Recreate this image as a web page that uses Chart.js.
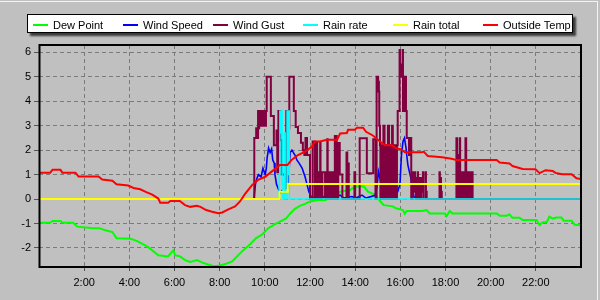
<!DOCTYPE html>
<html>
<head>
<meta charset="utf-8">
<script src="https://cdn.jsdelivr.net/npm/chart.js@4"></script>
<style>
  body { margin: 0; background: #c0c0c0; }
  #wrap { position: relative; width: 600px; height: 300px; background: #c0c0c0; overflow: hidden; }
  #topline { position: absolute; left: 0; top: 1px; width: 598px; height: 1px; background: #f4f4f4; }
  #rightline { position: absolute; left: 597px; top: 1px; width: 1px; height: 299px; background: #f4f4f4; }
  #legend { position: absolute; left: 27px; top: 14px; width: 544px; height: 17px; border: 1px solid #000;
            background: #fff; box-shadow: 3px 3px 2px #3a3a3a; font: 11px "Liberation Sans", Arial, sans-serif; }
  #legend .mark { position: absolute; top: 9px; width: 15px; height: 0; border-top: 2px solid; }
  #legend .txt { position: absolute; top: 2px; line-height: 17px; color: #000; white-space: nowrap; }
  canvas { position: absolute; left: 0; top: 0; }
</style>
</head>
<body>
<div id="wrap">
  <div id="topline"></div>
  <div id="rightline"></div>
  <canvas id="myChart" width="600" height="300"></canvas>
  <div id="legend"></div>
</div>
<script>
// x values are minutes after midnight
var xTicks = [120, 240, 360, 480, 600, 720, 840, 960, 1080, 1200, 1320];
var xTickLabels = ["2:00", "4:00", "6:00", "8:00", "10:00", "12:00", "14:00", "16:00", "18:00", "20:00", "22:00"];
var yTicks = [-2, -1, 0, 1, 2, 3, 4, 5, 6];

var seriesNames = ["Dew Point", "Wind Speed", "Wind Gust", "Rain rate", "Rain total", "Outside Temp"];

var dewPoint = [[0,-0.97],[30,-0.97],[36,-0.9],[57,-0.9],[62,-0.97],[91,-0.97],[102,-1.13],[137,-1.18],[163,-1.2],
  [174,-1.27],[195,-1.35],[206,-1.6],[243,-1.62],[261,-1.72],[277,-1.85],[290,-1.97],[301,-2.1],[317,-2.3],
  [343,-2.35],[351,-2.2],[357,-2.1],[362,-2.3],[375,-2.35],[388,-2.5],[402,-2.57],[420,-2.5],[434,-2.6],
  [449,-2.68],[465,-2.75],[481,-2.72],[497,-2.65],[513,-2.55],[526,-2.35],[542,-2.1],[561,-1.85],[577,-1.6],
  [593,-1.45],[609,-1.2],[625,-1.05],[640,-0.92],[656,-0.8],[667,-0.6],[680,-0.4],[693,-0.28],[707,-0.2],
  [720,-0.1],[741,-0.04],[762,-0.04],[773,0.08],[789,0.15],[800,0.3],[826,0.37],[839,0.5],[863,0.52],
  [874,0.3],[892,0.18],[906,-0.08],[916,-0.25],[940,-0.3],[948,-0.38],[967,-0.45],[972,-0.6],[977,-0.49],
  [1019,-0.49],[1030,-0.45],[1038,-0.59],[1078,-0.59],[1083,-0.7],[1091,-0.49],[1099,-0.59],[1216,-0.59],
  [1224,-0.68],[1242,-0.68],[1250,-0.63],[1258,-0.77],[1277,-0.77],[1285,-0.86],[1322,-0.86],[1330,-1.07],
  [1338,-0.95],[1349,-0.95],[1356,-0.72],[1365,-0.8],[1375,-0.76],[1388,-0.76],[1394,-0.89],[1415,-0.89],
  [1423,-1.05],[1440,-1.07]];

var windSpeed = [[0,0],[571,0],[575,0.6],[579,0.85],[583,1.0],[590,0.9],[595,1.26],[601,1.0],[604,1.26],
  [606,1.67],[610,2.08],[614,1.9],[618,2.05],[621,1.6],[625,1.47],[627,1.0],[631,0.6],[635,0.45],[640,0.25],
  [646,0.35],[651,0.25],[656,0.5],[662,0.45],[664,1.0],[667,1.9],[672,2.0],[680,1.8],[685,1.6],[691,1.47],
  [699,1.27],[707,0.9],[712,0.6],[717,0.3],[723,0.1],[728,0.04],[746,0.16],[752,0.04],[762,0.16],[768,0.04],
  [800,0.16],[810,0.04],[831,0.1],[842,0.04],[858,0.16],[869,0.04],[893,0.15],[898,0.5],[902,1.12],[906,0.86],
  [911,0.5],[916,0.3],[921,0.4],[929,0.2],[938,0.3],[946,0.1],[953,0.3],[959,0.6],[963,1.8],[967,2.35],
  [971,2.49],[975,2.1],[977,1.8],[980,1.4],[984,1.12],[988,0.86],[992,0.4],[996,0.1],[1001,0.04],[1012,0],[1440,0]];

var windGust = [[0,0],[572,2.5],[577,2.9],[578,2.5],[579,2.9],[580,2.5],[582,3.6],[584,2.9],[585,3.6],
  [590,3.0],[591,3.6],[592,3.0],[593,3.6],[594,3.0],[595,3.6],[596,3.0],[597,3.6],[598,3.0],[599,3.6],[600,3.0],
  [601,3.6],[602,3.0],[603,3.6],[605,5.0],[616,3.4],[624,2.2],[631,2.8],[633,1.1],[636,3.6],[641,2.4],[645,1.0],
  [654,0.45],[657,3.6],[661,2.9],[665,5.0],[677,3.6],[682,2.95],[688,2.7],[696,2.3],[701,2.0],[705,1.8],[708,2.5],
  [712,1.8],[720,0],[727,2.35],[733,0],[734,1.1],[735,0],[736,1.1],[737,0],[738,2.3],[739,0],[740,1.1],[741,0],
  [742,1.1],[743,0],[744,1.1],[745,0],[746,1.1],[747,2.3],[748,0],[749,1.1],[750,0],[751,1.1],[752,0],[753,1.1],
  [760,0],[761,1.1],[762,0],[763,1.1],[764,0],[765,1.1],[766,2.45],[767,0],[768,1.1],[769,0],[770,1.1],[771,0],
  [772,1.1],[773,0],[774,1.1],[775,0],[776,1.1],[777,0],[778,1.1],[779,0],[780,1.1],[781,0],[786,2.58],[791,0],
  [795,2.29],[799,1.0],[806,0],[817,1.9],[819,0],[821,1.45],[823,0],[838,1.1],[840,0],[852,2.49],[871,1.05],
  [888,2.45],[894,0],[897,5.0],[899,4.4],[900,5.0],[901,4.4],[902,4.8],[903,4.4],[904,3.0],[906,2.2],[907,0],
  [908,2.2],[909,0],[910,2.2],[911,0],[912,2.2],[913,0],[914,2.2],[915,3.0],[918,0],[919,2.2],[920,0],[921,2.2],
  [922,0],[923,2.2],[924,0],[925,2.2],[926,0],[927,3.0],[930,2.2],[931,0],[932,2.2],[933,0],[934,2.2],[935,0],
  [936,2.2],[937,0],[938,3.0],[940,0],[941,2.2],[942,0],[943,2.2],[944,0],[945,2.2],[946,0],[947,2.2],[948,0],
  [949,2.2],[950,0],[951,2.2],[953,3.6],[958,6.1],[959,5.0],[960,5.5],[961,5.0],[962,5.5],[963,5.0],[966,6.1],
  [967,3.6],[968,5.0],[969,3.6],[970,5.0],[971,3.6],[972,5.0],[973,3.6],[974,5.0],[975,3.6],[977,2.5],[983,1.8],
  [987,2.5],[989,0],[993,1.1],[994,0.3],[998,1.1],[999,0.3],[1001,0],[1003,0.86],[1004,0.3],[1006,1.1],[1007,0],
  [1010,0.86],[1011,0],[1015,0.86],[1016,0.3],[1020,1.1],[1021,0],[1027,1.1],[1028,0.3],[1030,0],[1064,1.1],
  [1065,0],[1067,0.86],[1068,0.3],[1070,0],[1109,2.49],[1111,1.8],[1113,0],[1114,1.1],[1115,0],[1116,1.1],[1117,0],
  [1118,2.49],[1119,1.1],[1120,0],[1121,1.1],[1122,0],[1123,1.1],[1124,0],[1125,1.1],[1126,0],[1127,1.1],[1128,0],
  [1129,1.1],[1130,0],[1131,1.1],[1132,0],[1133,2.49],[1135,1.1],[1136,0],[1137,1.1],[1138,0],[1139,1.1],[1140,0],
  [1141,1.1],[1142,0],[1143,1.1],[1144,0],[1145,1.1],[1146,0],[1147,1.1],[1148,0],[1149,1.1],[1152,0],[1440,0]];

var rainRate = [[0,0],[638,1.0],[640,3.6],[642,2.7],[644,3.6],[646,0.6],[648,0],[652,2.7],[654,0],
  [659,3.6],[661,1.0],[662,3.6],[665,0],[1440,0]];

var rainTotal = [[0,0],[639,0.3],[661,0.61],[1440,0.61]];

var outsideTemp = [[0,1.08],[30,1.08],[36,1.2],[57,1.2],[62,1.08],[97,1.08],[105,0.92],[158,0.92],[168,0.8],
  [195,0.75],[206,0.6],[237,0.55],[251,0.45],[269,0.4],[285,0.28],[301,0.18],[317,0.02],[322,-0.15],[343,-0.15],
  [349,-0.08],[374,-0.08],[388,-0.25],[402,-0.32],[419,-0.28],[429,-0.32],[444,-0.45],[460,-0.52],[476,-0.58],
  [487,-0.55],[503,-0.42],[521,-0.3],[534,-0.1],[547,0.2],[566,0.57],[582,0.78],[601,0.91],[618,1.12],[635,1.32],
  [640,1.39],[660,1.39],[671,1.6],[688,1.8],[707,1.94],[725,2.14],[733,2.35],[746,2.35],[765,2.42],[792,2.42],
  [800,2.68],[818,2.7],[821,2.83],[839,2.83],[845,2.92],[861,2.92],[869,2.75],[887,2.6],[906,2.35],[919,2.2],
  [938,2.2],[948,2.08],[963,2.03],[972,1.91],[1017,1.91],[1022,1.94],[1033,1.76],[1071,1.71],[1096,1.65],
  [1109,1.6],[1216,1.6],[1224,1.49],[1250,1.45],[1258,1.35],[1285,1.23],[1319,1.22],[1330,1.06],[1346,1.18],
  [1365,1.15],[1372,1.07],[1390,1.01],[1415,1.01],[1428,0.85],[1440,0.82]];

var seriesData = [dewPoint, windSpeed, windGust, rainRate, rainTotal, outsideTemp];
var seriesColors = ["#00ff00", "#0000ff", "#800040", "#00ffff", "#ffff00", "#ff0000"];
var seriesStepped = [false, false, true, true, true, false];
var seriesWidth = [2, 1.6, 2, 1.5, 2, 2];

Chart.defaults.font.family = '"Liberation Sans", Arial, sans-serif';
Chart.defaults.font.size = 11;
Chart.defaults.color = "#000";

// legend
var legend = document.getElementById("legend");
for (var i = 0; i < seriesNames.length; i++) {
    var m = document.createElement("div");
    m.className = "mark";
    m.style.left = (5 + i * 90) + "px";
    m.style.borderTopColor = seriesColors[i];
    legend.appendChild(m);
    var t = document.createElement("span");
    t.className = "txt";
    t.style.left = (25 + i * 90) + "px";
    t.textContent = seriesNames[i];
    legend.appendChild(t);
}

var datasets = [];
for (var i = 0; i < seriesNames.length; i++) {
    datasets.push({
        label: seriesNames[i],
        data: seriesData[i].map(function (p) { return {x: p[0], y: p[1]}; }),
        borderColor: seriesColors[i],
        backgroundColor: seriesColors[i],
        borderWidth: seriesWidth[i],
        stepped: seriesStepped[i],
        pointRadius: 0,
        tension: 0,
        fill: false,
        order: seriesNames.length - 1 - i
    });
}

var frame = {
    id: "frame",
    afterDatasetsDraw: function (chart) {
        var a = chart.chartArea, c = chart.ctx;
        c.save();
        c.strokeStyle = "#000";
        c.lineWidth = 2;
        c.strokeRect(a.left + 0.5, a.top, a.right - a.left - 0.5, a.bottom - a.top);
        c.restore();
    }
};

var ctx = document.getElementById("myChart").getContext("2d");
var myChart = new Chart(ctx, {
    type: "line",
    data: {datasets: datasets},
    options: {
        responsive: false,
        animation: false,
        events: [],
        layout: {padding: {top: 45, right: 19, left: 0, bottom: 0}},
        plugins: {legend: {display: false}, tooltip: {enabled: false}},
        scales: {
            x: {
                type: "linear",
                min: 0,
                max: 1440,
                afterBuildTicks: function (s) { s.ticks = xTicks.map(function (v) { return {value: v}; }); },
                afterFit: function (s) { s.height = 33; },
                ticks: {
                    autoSkip: false, maxRotation: 0, padding: 5,
                    callback: function (v, idx) { return xTickLabels[idx]; }
                },
                grid: {color: "#7a7a7a", lineWidth: 1, tickLength: 4, tickColor: "#555", tickBorderDash: []},
                border: {display: false, dash: [4, 3]}
            },
            y: {
                min: -2.78,
                max: 6.3,
                afterBuildTicks: function (s) { s.ticks = yTicks.map(function (v) { return {value: v}; }); },
                afterFit: function (s) { s.width = 39; },
                ticks: {padding: 3, callback: function (v) { return String(v); }},
                grid: {color: "#7a7a7a", lineWidth: 1, tickLength: 5, tickColor: "#555", tickBorderDash: []},
                border: {display: false, dash: [4, 3]}
            }
        }
    },
    plugins: [frame]
});
</script>
</body>
</html>
